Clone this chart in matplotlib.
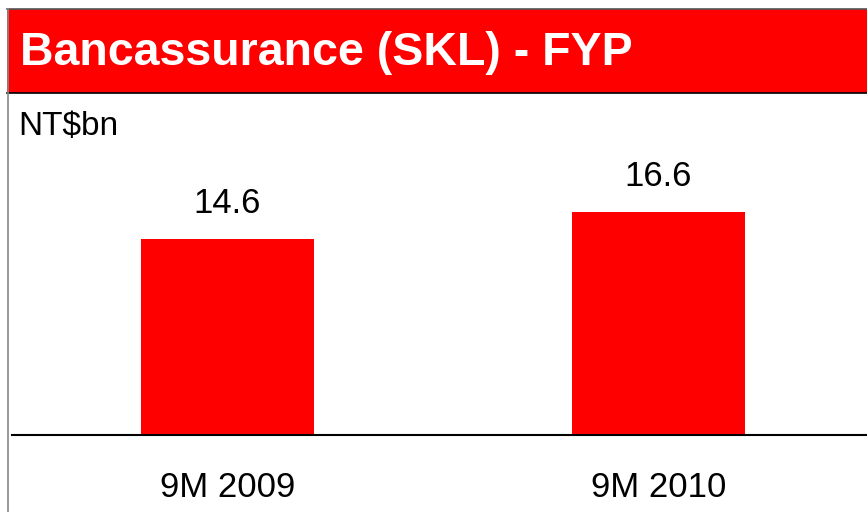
import matplotlib.pyplot as plt
from matplotlib.patches import Rectangle
from matplotlib.lines import Line2D

plt.rcParams['font.family'] = ['Liberation Sans', 'DejaVu Sans']

# data
categories = ['9M 2009', '9M 2010']
values = [14.6, 16.6]
title = 'Bancassurance (SKL) - FYP'
unit = 'NT$bn'

W, H = 867, 512
fig = plt.figure(figsize=(W / 100, H / 100), dpi=100)
fig.patch.set_facecolor('white')

def fx(px):
    return px / W

def fy(py):
    return 1 - py / H

# header band
fig.patches.append(Rectangle((fx(7), fy(93)), fx(867 - 7), 84 / H, transform=fig.transFigure,
                             facecolor='#ff0000', edgecolor='none', zorder=1))
fig.lines.append(Line2D([fx(7), 1], [fy(93), fy(93)], transform=fig.transFigure, color='black', lw=1.2, zorder=2))
fig.lines.append(Line2D([fx(7), 1], [fy(8.5), fy(8.5)], transform=fig.transFigure, color='#555555', lw=1.2, zorder=2))
fig.lines.append(Line2D([fx(7.5), fx(7.5)], [0, fy(8.5)], transform=fig.transFigure, color='#888888', lw=1.2, zorder=2))
fig.text(fx(20), fy(65), title, color='white', fontsize=33.5, fontweight='bold', va='baseline', ha='left')
fig.text(fx(18), fy(135), unit, color='black', fontsize=24, va='baseline', ha='left')

# bars
ax = fig.add_axes([fx(12), fy(435), 1 - fx(12), 335.8 / H])
ax.set_facecolor('none')
x = list(range(len(values)))
ax.bar(x, values, width=0.4, color='#ff0000', zorder=2)
ax.set_xlim(-0.5, -0.5 + 855 / 431)
ax.set_ylim(0, 25)
for xi, v in zip(x, values):
    ax.annotate('%.1f' % v, (xi, v), xytext=(0, 13.5), textcoords='offset points',
                ha='center', va='bottom', fontsize=25)
ax.set_xticks(x)
ax.set_xticklabels(categories, fontsize=25)
ax.tick_params(axis='x', length=0, pad=26)
ax.set_yticks([])
for s in ['top', 'right', 'left']:
    ax.spines[s].set_visible(False)
ax.spines['bottom'].set_linewidth(1.5)
ax.spines['bottom'].set_zorder(3)

fig.savefig('out.png', dpi=100)
